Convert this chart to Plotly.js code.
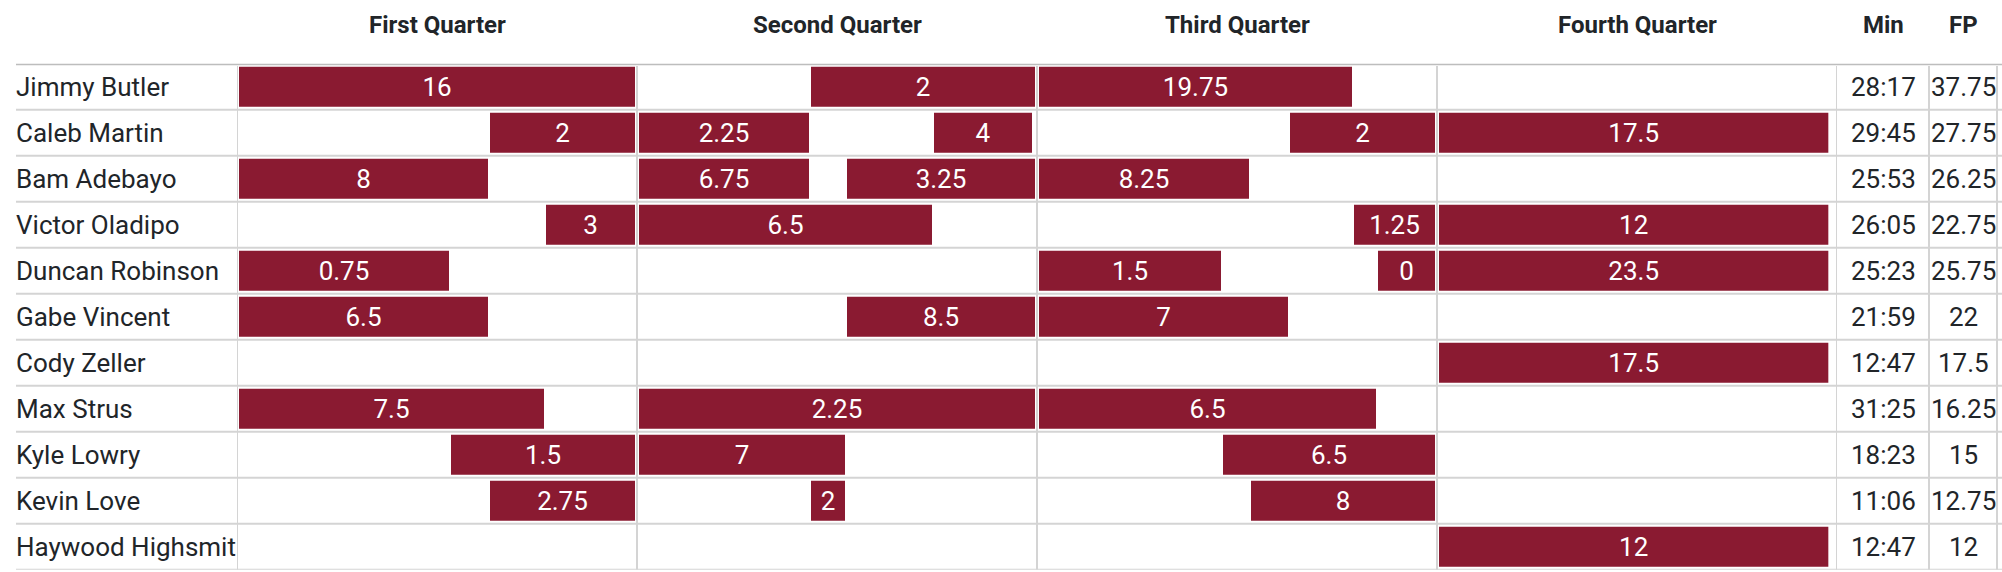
<!DOCTYPE html>
<html>
<head>
<meta charset="utf-8">
<script src="https://cdn.plot.ly/plotly-3.0.1.min.js"></script>
<style>
  html, body { margin: 0; padding: 0; background: #ffffff; }
  #chart { width: 2002px; height: 572px; }
</style>
</head>
<body>
<div id="chart"></div>
<script>
// ---- data ----
const players = ["Jimmy Butler", "Caleb Martin", "Bam Adebayo", "Victor Oladipo", "Duncan Robinson",
  "Gabe Vincent", "Cody Zeller", "Max Strus", "Kyle Lowry", "Kevin Love", "Haywood Highsmit"];
const minutesPlayed = ["28:17", "29:45", "25:53", "26:05", "25:23", "21:59", "12:47", "31:25", "18:23", "11:06", "12:47"];
const totalFP = ["37.75", "27.75", "26.25", "22.75", "25.75", "22", "17.5", "16.25", "15", "12.75", "12"];
const quarterLabels = ["First Quarter", "Second Quarter", "Third Quarter", "Fourth Quarter"];
const quarterLength = 12;

// one entry per stint on the floor
const stintPlayer  = [0, 0, 0,  1, 1, 1, 1, 1,  2, 2, 2, 2,  3, 3, 3, 3,  4, 4, 4, 4,  5, 5, 5,  6,  7, 7, 7,  8, 8, 8,  9, 9, 9,  10];
const stintQuarter = [0, 1, 2,  0, 1, 1, 2, 3,  0, 1, 1, 2,  0, 1, 2, 3,  0, 2, 2, 3,  0, 1, 2,  3,  0, 1, 2,  0, 1, 2,  0, 1, 2,  3];
const stintStart   = [0, 5.16, 0,  7.53, 0, 8.85, 7.53, 0,  0, 0, 6.24, 0,  9.21, 0, 9.45, 0,  0, 0, 10.17, 0,  0, 6.24, 0,  0,  0, 0, 0,  6.36, 0, 5.52,  7.53, 5.16, 6.36,  0];
const stintEnd     = [12, 12, 9.51,  12, 5.22, 11.91, 12, 11.8,  7.59, 5.22, 12, 6.42,  12, 8.91, 12, 11.8,  6.42, 5.58, 12, 11.8,  7.59, 12, 7.59,  11.8,  9.27, 12, 10.23,  12, 6.3, 12,  12, 6.3, 12,  11.8];
const stintFP      = [16, 2, 19.75,  2, 2.25, 4, 2, 17.5,  8, 6.75, 3.25, 8.25,  3, 6.5, 1.25, 12,  0.75, 1.5, 0, 23.5,  6.5, 8.5, 7,  17.5,  7.5, 2.25, 6.5,  1.5, 7, 6.5,  2.75, 2, 8,  12];

// ---- styling ----
const W = 2002, H = 572;
const px = v => v / W;
const gridTop = 63.7, gridBottom = 569.7;
const TEXT = "#212529";
const BAR = "#8a1a31";
const FONT = "Roboto, 'Noto Sans', sans-serif";
const BODY = 26;
const colMinL = 1837, colFPL = 1929, colFPR = 1997;

const trace = {
  type: "bar",
  orientation: "h",
  y: stintPlayer,
  base: stintStart.map((s, i) => stintQuarter[i] * quarterLength + s),
  x: stintEnd.map((e, i) => e - stintStart[i]),
  text: stintFP.map(String),
  textposition: "inside",
  insidetextanchor: "middle",
  textangle: 0,
  textfont: { family: FONT, size: BODY, color: "#ffffff" },
  width: 0.9565,
  marker: { color: BAR, line: { color: "#ffffff", width: 4 } },
  hoverinfo: "skip",
  showlegend: false,
  cliponaxis: false
};

const shapes = [];
const lineStyle = { color: "#d4d4d4", width: 2 };
// horizontal row separators
for (let i = 1; i <= players.length; i++) {
  shapes.push({ type: "line", layer: "above", xref: "paper", yref: "y",
    x0: px(16), x1: 1, y0: i - 0.5, y1: i - 0.5, line: lineStyle });
}
// header bottom border
shapes.push({ type: "line", layer: "above", xref: "paper", yref: "y",
  x0: px(16), x1: 1, y0: -0.5, y1: -0.5, line: { color: "#bdbdbd", width: 3 } });
// quarter boundaries
for (let q = 0; q <= quarterLabels.length; q++) {
  shapes.push({ type: "line", layer: "above", xref: "x", yref: "y",
    x0: q * quarterLength, x1: q * quarterLength, y0: -0.45, y1: players.length - 0.5, line: lineStyle });
}
// Min / FP column borders
[colFPL, colFPR].forEach(xp => {
  shapes.push({ type: "line", layer: "above", xref: "paper", yref: "y",
    x0: px(xp), x1: px(xp), y0: -0.45, y1: players.length - 0.5, line: lineStyle });
});

const annotations = [];
const headerY = (H - 25) / H;
quarterLabels.forEach((q, i) => {
  annotations.push({ xref: "x", yref: "paper", x: i * quarterLength + quarterLength / 2, y: headerY,
    text: "<b>" + q + "</b>", showarrow: false, xanchor: "center", yanchor: "middle",
    font: { family: FONT, size: 24, color: TEXT } });
});
annotations.push({ xref: "paper", yref: "paper", x: px((colMinL + colFPL) / 2), y: headerY,
  text: "<b>Min</b>", showarrow: false, xanchor: "center", yanchor: "middle",
  font: { family: FONT, size: 24, color: TEXT } });
annotations.push({ xref: "paper", yref: "paper", x: px((colFPL + colFPR) / 2), y: headerY,
  text: "<b>FP</b>", showarrow: false, xanchor: "center", yanchor: "middle",
  font: { family: FONT, size: 24, color: TEXT } });

players.forEach((p, i) => {
  annotations.push({ xref: "paper", yref: "y", x: px(14), y: i, text: p, showarrow: false,
    xanchor: "left", yanchor: "middle", font: { family: FONT, size: BODY, color: TEXT } });
  annotations.push({ xref: "paper", yref: "y", x: px((colMinL + colFPL) / 2), y: i, text: minutesPlayed[i],
    showarrow: false, xanchor: "center", yanchor: "middle", font: { family: FONT, size: BODY, color: TEXT } });
  annotations.push({ xref: "paper", yref: "y", x: px((colFPL + colFPR) / 2), y: i, text: totalFP[i],
    showarrow: false, xanchor: "center", yanchor: "middle", font: { family: FONT, size: BODY, color: TEXT } });
});

const layout = {
  width: W, height: H,
  margin: { l: 0, r: 0, t: 0, b: 0, pad: 0 },
  paper_bgcolor: "#ffffff", plot_bgcolor: "#ffffff",
  barmode: "overlay",
  uniformtext: { mode: "show", minsize: BODY },
  xaxis: { domain: [px(237), px(1837)], range: [0, quarterLabels.length * quarterLength],
    showgrid: false, zeroline: false, showticklabels: false, ticks: "", showline: false, fixedrange: true },
  yaxis: { domain: [(H - gridBottom) / H, (H - gridTop) / H], range: [players.length - 0.5, -0.5],
    showgrid: false, zeroline: false, showticklabels: false, ticks: "", showline: false, fixedrange: true },
  shapes: shapes,
  annotations: annotations,
  font: { family: FONT, color: TEXT }
};

Plotly.newPlot("chart", [trace], layout, { displayModeBar: false, staticPlot: true });
</script>
</body>
</html>
